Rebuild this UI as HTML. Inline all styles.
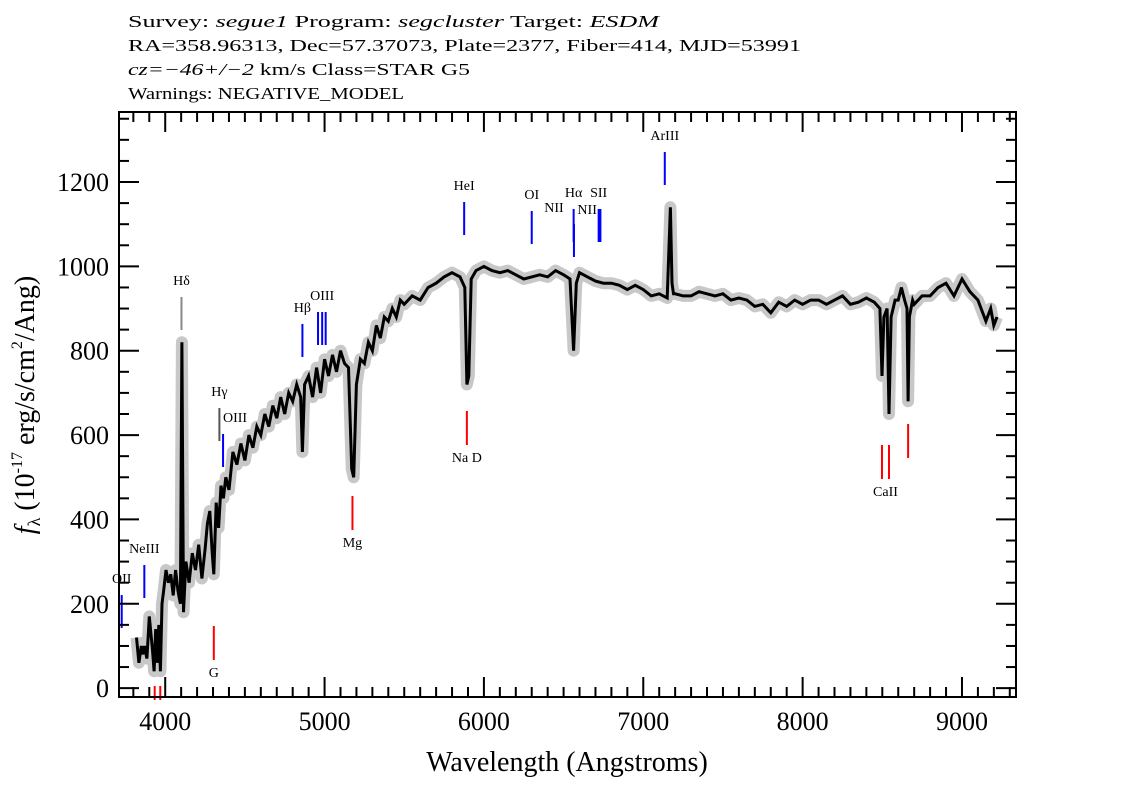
<!DOCTYPE html>
<html><head><meta charset="utf-8"><style>
html,body{margin:0;padding:0;background:#fff;}
svg{display:block;font-family:"Liberation Serif",serif;}
</style></head><body>
<svg id="chart" width="1134" height="810" viewBox="0 0 1134 810" xmlns="http://www.w3.org/2000/svg">
<g font-size="17" fill="#000">
<text x="128" y="27" textLength="531" lengthAdjust="spacingAndGlyphs">Survey: <tspan font-style="italic">segue1</tspan> Program: <tspan font-style="italic">segcluster</tspan> Target: <tspan font-style="italic">ESDM</tspan></text>
<text x="128" y="51" textLength="673" lengthAdjust="spacingAndGlyphs">RA=358.96313, Dec=57.37073, Plate=2377, Fiber=414, MJD=53991</text>
<text x="128" y="75" textLength="342" lengthAdjust="spacingAndGlyphs"><tspan font-style="italic">cz=−46+/−2</tspan> km/s Class=STAR G5</text>
<text x="128" y="99" textLength="276" lengthAdjust="spacingAndGlyphs">Warnings: NEGATIVE_MODEL</text>
</g>
<defs><clipPath id="clip"><rect x="119" y="112" width="897" height="585"/></clipPath></defs>
<g id="plot" clip-path="url(#clip)"></g>
<g id="lines"></g>
<rect x="119" y="112" width="897" height="585" fill="none" stroke="#000" stroke-width="2"/>
<g id="axes"></g>
<text x="567" y="771" font-size="28" text-anchor="middle">Wavelength (Angstroms)</text>
<text transform="translate(34,405) rotate(-90)" font-size="28" text-anchor="middle"><tspan font-style="italic">f</tspan><tspan font-size="18" dy="6">λ</tspan><tspan dy="-6"> (10</tspan><tspan font-size="16" dy="-12">-17</tspan><tspan dy="12"> erg/s/cm</tspan><tspan font-size="16" dy="-12">2</tspan><tspan dy="12">/Ang)</tspan></text>
</svg>
<script>
const waves=[3820,3835,3850,3860,3870,3885,3900,3910,3920,3930,3940,3950,3960,3970,3980,3990,4005,4020,4035,4050,4065,4080,4095,4105,4115,4130,4150,4170,4190,4210,4230,4250,4265,4280,4295,4305,4320,4335,4350,4365,4380,4400,4425,4450,4475,4500,4525,4550,4575,4600,4625,4650,4675,4700,4725,4750,4775,4800,4825,4850,4861,4875,4900,4925,4950,4975,5000,5025,5050,5075,5100,5125,5150,5170,5183,5200,5225,5250,5275,5300,5325,5350,5375,5400,5425,5450,5475,5500,5550,5600,5650,5700,5750,5800,5850,5880,5893,5905,5920,5950,6000,6050,6100,6150,6200,6250,6300,6350,6400,6450,6500,6540,6563,6580,6600,6650,6700,6750,6800,6850,6900,6950,7000,7050,7100,7150,7170,7180,7190,7200,7250,7300,7350,7400,7450,7500,7550,7600,7650,7700,7750,7800,7850,7900,7950,8000,8050,8100,8150,8200,8250,8300,8350,8400,8450,8485,8498,8510,8530,8542,8555,8580,8600,8620,8640,8655,8662,8670,8690,8700,8750,8800,8850,8900,8950,9000,9050,9100,9150,9180,9200,9220];
const flux=[120,60,100,80,100,70,170,130,90,40,140,60,150,40,200,230,280,250,270,220,280,230,200,820,180,300,250,320,280,340,260,330,390,420,320,270,440,380,480,450,500,470,560,530,580,540,600,570,620,600,650,620,670,640,690,650,700,680,720,690,560,720,740,690,760,700,780,740,790,750,800,770,760,520,500,720,780,770,820,800,860,830,880,870,900,880,920,910,930,920,950,960,975,985,975,950,720,740,970,990,1000,990,985,990,980,970,975,980,975,990,980,970,800,960,985,975,965,960,960,955,945,955,945,930,935,925,1140,960,935,935,930,930,940,935,930,935,920,925,920,905,910,890,915,905,920,910,920,920,910,920,930,910,915,925,915,900,740,880,900,650,880,920,920,950,920,900,680,880,920,910,930,930,950,960,930,970,940,920,870,900,860,880];
const xTicks=[4000,5000,6000,7000,8000,9000];
const yTicks=[0,200,400,600,800,1000,1200];
const emNames=["OII","NeIII","Hδ","Hγ","OIII","Hβ","OIII","HeI","OI","NII","Hα","SII","NII","ArIII"];
const emWaves=[3727,3869,4102,4340,4363,4861,4985,5876,6300,6565,6563,6720,6585,7135];
const absNames=["Na D","Mg","G","CaII","K","H"];
const absWaves=[5893,5175,4305,8542,3934,3969];
const X0=3710,X1=9339,Y0=-21,Y1=1366;
const px=w=>119+(w-X0)/(X1-X0)*897;
const py=v=>697-(v-Y0)/(Y1-Y0)*585;
const NS="http://www.w3.org/2000/svg";
function mk(tag,attrs,parent){const e=document.createElementNS(NS,tag);for(const k in attrs)e.setAttribute(k,attrs[k]);parent.appendChild(e);return e;}
const plot=document.getElementById('plot'),axes=document.getElementById('axes'),lines=document.getElementById('lines');
let d='';
for(let i=0;i<waves.length;i++){d+=(i?'L':'M')+px(waves[i]).toFixed(1)+','+py(flux[i]).toFixed(1);}
const b=mk('path',{d:d,fill:'none',stroke:'#c8c8c8','stroke-width':12,'stroke-linejoin':'round'},plot);


const sp=mk('path',{d:d,fill:'none',stroke:'#000','stroke-width':3,'stroke-linejoin':'miter'},plot);


for(let w=3800;w<=9300;w+=100){const x=px(w);const major=w%1000===0;
 const t=mk('line',{x1:x,x2:x,y1:697,y2:697-(major?20:10),stroke:'#000','stroke-width':2},axes);
 
 
 const t2=mk('line',{x1:x,x2:x,y1:112,y2:112+(major?20:10),stroke:'#000','stroke-width':2},axes);
 
 }
xTicks.forEach(w=>{const t=mk('text',{x:px(w),y:730,'font-size':26,'text-anchor':'middle'},axes);t.textContent=w;
 
 });
for(let v=0;v<=1350;v+=50){const y=py(v);const major=v%200===0;
 const t=mk('line',{x1:119,x2:119+(major?20:10),y1:y,y2:y,stroke:'#000','stroke-width':2},axes);
 
 
 const t2=mk('line',{x1:1016,x2:1016-(major?20:10),y1:y,y2:y,stroke:'#000','stroke-width':2},axes);
 
 }
yTicks.forEach(v=>{const t=mk('text',{x:109,y:py(v)+9,'font-size':26,'text-anchor':'end'},axes);t.textContent=v;
 
 });
const emY=[583,553,285,396,422,312,300,190,199,212,197,197,214,140];
const emCol=["#00f","#00f","#888","#555","#00f","#00f","#00f","#00f","#00f","#00f","#00f","#00f","#00f","#00f"];
emNames.forEach((n,i)=>{const x=px(emWaves[i]);const ly=emY[i];
 if(n!=="NII"||i===9){const l=mk('line',{x1:x,x2:x,y1:ly+12,y2:ly+45,stroke:emCol[i],'stroke-width':2},lines);
  
  }
 if(n==="OIII"&&i===6){const l2=mk('line',{x1:px(4959),x2:px(4959),y1:ly+12,y2:ly+45,stroke:'#00f','stroke-width':2},lines);
  
  
  const l3=mk('line',{x1:px(5007),x2:px(5007),y1:ly+12,y2:ly+45,stroke:'#00f','stroke-width':2},lines);
  
  }
 if(n==="SII"){const l4=mk('line',{x1:px(6731),x2:px(6731),y1:ly+12,y2:ly+45,stroke:'#00f','stroke-width':2},lines);
  
  }
 let lx=x;if(i===9)lx=x-20;if(i===12)lx=x+10;if(i===6)lx=px(4985);if(i===4)lx=x+12;
 const t=mk('text',{x:lx,y:ly,'font-size':14,'text-anchor':'middle'},lines);t.textContent=n;
 
 });
const absY=[462,547,677,496,0,0];
absNames.forEach((n,i)=>{const x=px(absWaves[i]);
 if(i>=4){const l=mk('line',{x1:x,x2:x,y1:686,y2:700,stroke:'#f00','stroke-width':2},lines);
  
  return;}
 const ly=absY[i];
 const ws=i===3?[8498,8542,8662]:[absWaves[i]];
 ws.forEach(w=>{const xx=px(w);const top=w===8662?424:ly-51;
  const l=mk('line',{x1:xx,x2:xx,y1:top,y2:top+34,stroke:'#f00','stroke-width':2},lines);
  
  });
 const t=mk('text',{x:i===3?px(8520):x,y:ly,'font-size':14,'text-anchor':'middle'},lines);t.textContent=n;
 
 });
</script>
</body></html>
